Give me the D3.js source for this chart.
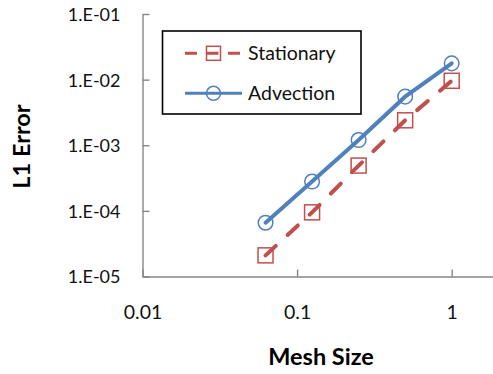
<!DOCTYPE html>
<html>
<head>
<meta charset="utf-8">
<script src="https://cdn.jsdelivr.net/npm/d3@7/dist/d3.min.js"></script>
<style>
  html, body { margin: 0; padding: 0; background: #fff; }
  svg { display: block; font-family: Lato, "Open Sans", sans-serif; }
</style>
</head>
<body>
<svg id="chart" width="493" height="374"></svg>
<script>
// Convergence data: L1 error against mesh size
const meshSizes  = [0.0625, 0.125, 0.25, 0.5, 1];
const stationary = [2.1e-5, 9.5e-5, 4.9e-4, 2.4e-3, 9.6e-3];
const advection  = [6.6e-5, 2.8e-4, 1.2e-3, 5.5e-3, 1.77e-2];

const seriesNames = ["Stationary", "Advection"];
const xTickValues = [0.01, 0.1, 1];
const xTickLabels = ["0.01", "0.1", "1"];
const yTickValues = [1e-5, 1e-4, 1e-3, 1e-2, 1e-1];
const yTickLabels = ["1.E-05", "1.E-04", "1.E-03", "1.E-02", "1.E-01"];

const RED = "#C0504D", BLUE = "#4F81BD", AXIS = "#868686";

const svg = d3.select("#chart");

// The x axis runs on to 10, past the right edge of the drawing
const x = d3.scaleLog().domain([0.01, 10]).range([142.5, 142.5 + 3 * 154.6]);
const y = d3.scaleLog().domain([1e-5, 1e-1]).range([276.5, 14]);

// Y axis: ticks point into the plot, labels on the left
const yAxis = d3.axisLeft(y)
  .tickValues(yTickValues)
  .tickFormat((d, i) => yTickLabels[i])
  .tickSizeInner(-7).tickSizeOuter(0).tickPadding(22);
const gy = svg.append("g").attr("transform", `translate(${x(0.01)},0)`).call(yAxis);

// X axis: ticks point up into the plot
const xAxis = d3.axisBottom(x)
  .tickValues(xTickValues)
  .tickFormat((d, i) => xTickLabels[i])
  .tickSizeInner(-7).tickSizeOuter(0).tickPadding(0);
const gx = svg.append("g").attr("transform", `translate(0,${y(1e-5)})`).call(xAxis);

[gx, gy].forEach(g => {
  g.select(".domain").attr("stroke", AXIS).attr("stroke-width", 1.4);
  g.selectAll(".tick line").attr("stroke", AXIS).attr("stroke-width", 1.4);
  g.selectAll("text").attr("fill", "#111").attr("font-family", "Lato, sans-serif");
});
gy.selectAll("text").attr("font-size", 18).attr("dy", "0.36em");
gx.selectAll("text").attr("font-size", 19.5).attr("y", 35.5).attr("dy", "0.36em");

// Axis titles
svg.append("text")
  .attr("x", 321).attr("y", 356.5).attr("dy", "0.36em")
  .attr("text-anchor", "middle")
  .attr("font-size", 23.5).attr("font-weight", "bold").attr("fill", "#000")
  .text("Mesh Size");
svg.append("text")
  .attr("transform", "translate(21.5,146.5) rotate(-90)")
  .attr("dy", "0.36em")
  .attr("text-anchor", "middle")
  .attr("font-size", 23.5).attr("font-weight", "bold").attr("fill", "#000")
  .text("L1 Error");

// Series lines
const line = d3.line().x(d => x(d[0])).y(d => y(d[1]));
const statPts = meshSizes.map((m, i) => [m, stationary[i]]);
const advPts  = meshSizes.map((m, i) => [m, advection[i]]);

svg.append("path").datum(statPts).attr("d", line)
  .attr("fill", "none").attr("stroke", RED).attr("stroke-width", 4)
  .attr("stroke-linecap", "round").attr("stroke-dasharray", "14,16");
svg.append("path").datum(advPts).attr("d", line)
  .attr("fill", "none").attr("stroke", BLUE).attr("stroke-width", 4)
  .attr("stroke-linecap", "round");

// Markers
const sq = 15;
svg.append("g").selectAll("rect").data(statPts).join("rect")
  .attr("x", d => x(d[0]) - sq / 2).attr("y", d => y(d[1]) - sq / 2)
  .attr("width", sq).attr("height", sq)
  .attr("fill", "none").attr("stroke", RED).attr("stroke-width", 1.5);
svg.append("g").selectAll("circle").data(advPts).join("circle")
  .attr("cx", d => x(d[0])).attr("cy", d => y(d[1])).attr("r", 7.3)
  .attr("fill", "none").attr("stroke", BLUE).attr("stroke-width", 1.5);

// Legend
const legend = svg.append("g");
legend.append("rect")
  .attr("x", 162.5).attr("y", 31).attr("width", 198.5).attr("height", 83)
  .attr("fill", "#fff").attr("stroke", "#000").attr("stroke-width", 1.6);

const rows = [
  { name: seriesNames[0], y: 53.3, color: RED, dash: "12,9.5", marker: "square" },
  { name: seriesNames[1], y: 93.3, color: BLUE, dash: null, marker: "circle" }
];
rows.forEach(r => {
  legend.append("line")
    .attr("x1", 185).attr("x2", 242).attr("y1", r.y).attr("y2", r.y)
    .attr("stroke", r.color).attr("stroke-width", 3)
    .attr("stroke-dasharray", r.dash);
  if (r.marker === "square") {
    legend.append("rect")
      .attr("x", 213.5 - 7).attr("y", r.y - 7).attr("width", 14).attr("height", 14)
      .attr("fill", "none").attr("stroke", r.color).attr("stroke-width", 1.5);
  } else {
    legend.append("circle")
      .attr("cx", 213.5).attr("cy", r.y).attr("r", 7)
      .attr("fill", "none").attr("stroke", r.color).attr("stroke-width", 1.5);
  }
  legend.append("text")
    .attr("x", 248).attr("y", r.y).attr("dy", "0.36em")
    .attr("font-size", 19.5).attr("fill", "#111")
    .text(r.name);
});
</script>
</body>
</html>
